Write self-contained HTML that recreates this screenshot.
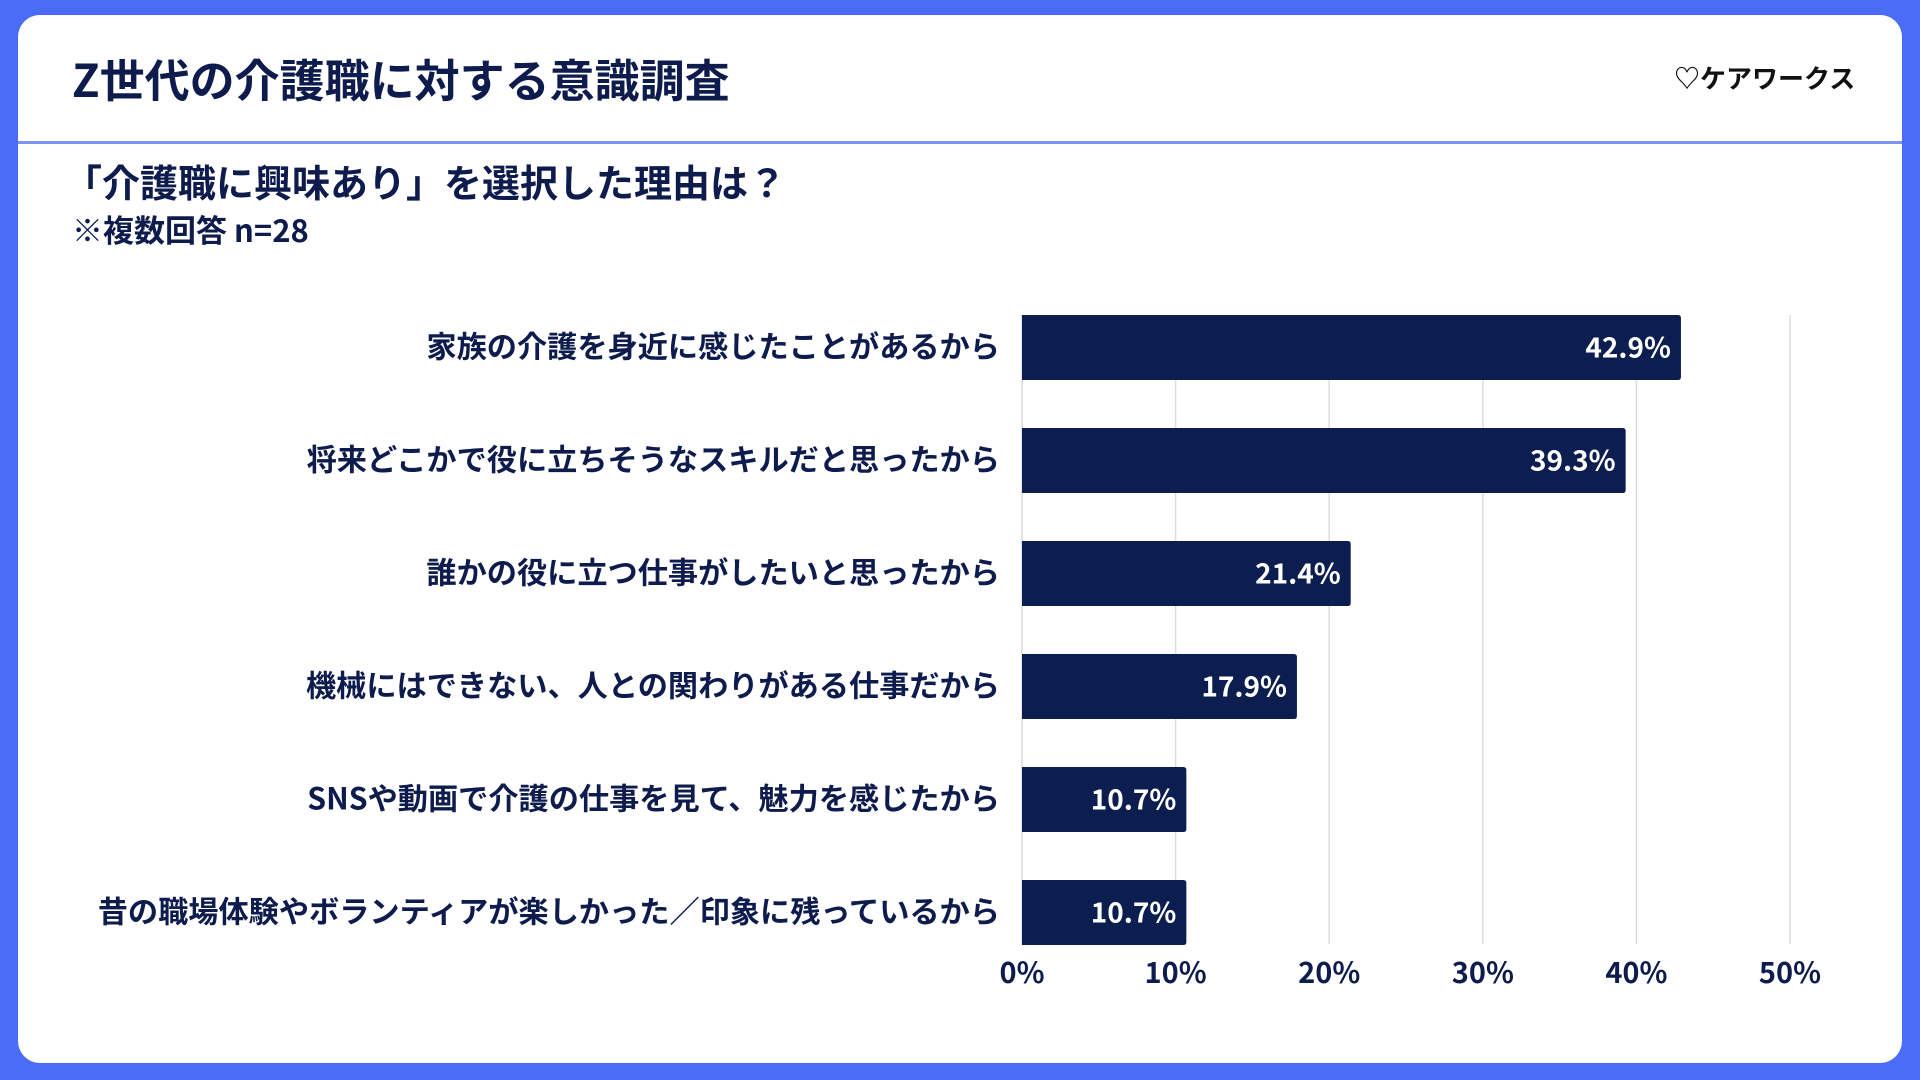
<!DOCTYPE html>
<html><head><meta charset="utf-8">
<style>
body{margin:0;width:1920px;height:1080px;background:#4b6cf6;overflow:hidden;font-family:"Liberation Sans","Noto Sans CJK JP",sans-serif;}
#card{position:absolute;left:18px;top:15px;width:1884px;height:1048px;background:#fff;border-radius:22px;overflow:hidden;}
.t{position:absolute;color:#0e1b4d;font-family:"Noto Sans CJK JP",sans-serif;font-weight:700;white-space:nowrap;}
</style></head><body>
<div id="card">
<div class="t" style="left:54px;top:30px;font-size:45px;line-height:66px;">Z世代の介護職に対する意識調査</div>
<div class="t" style="left:1656px;top:43px;font-size:26px;line-height:40px;color:#111;">♡ケアワークス</div>
<div style="position:absolute;left:0;top:126px;width:100%;height:3px;background:#7b95ee;"></div>
<div class="t" style="left:46px;top:139px;font-size:38px;line-height:54px;">「介護職に興味あり」を選択した理由は？</div>
<div class="t" style="left:54px;top:192px;font-size:31px;line-height:44px;">※複数回答 n=28</div>
</div>
<svg id="chart" width="1920" height="1080" style="position:absolute;left:0;top:0;">
<g id="grid"></g><g id="bars"></g><g id="labels"></g><g id="ticks"></g>
</svg>
<script>
const categories=["家族の介護を身近に感じたことがあるから","将来どこかで役に立ちそうなスキルだと思ったから","誰かの役に立つ仕事がしたいと思ったから","機械にはできない、人との関わりがある仕事だから","SNSや動画で介護の仕事を見て、魅力を感じたから","昔の職場体験やボランティアが楽しかった／印象に残っているから"];
const values=[42.9,39.3,21.4,17.9,10.7,10.7];
const tickValues=[0,10,20,30,40,50];
const tickLabels=["0%","10%","20%","30%","40%","50%"];
const NS="http://www.w3.org/2000/svg";
const x0=1022,pxPer=15.36,yTop=315,step=113,barH=65;
const xs=v=>x0+v*pxPer;
const yc=i=>yTop+barH/2+i*step;
function mk(t,a,p){const e=document.createElementNS(NS,t);for(const k in a)e.setAttribute(k,a[k]);p.appendChild(e);return e;}
const G=document.getElementById('grid'),B=document.getElementById('bars'),L=document.getElementById('labels'),T=document.getElementById('ticks');
const font='"Noto Sans CJK JP",sans-serif';
tickValues.forEach((v,i)=>{
 const ln=mk('line',{x1:xs(v),x2:xs(v),y1:yTop,y2:944,stroke:'#dcdcdc','stroke-width':1.5},G);
 
 
 const tx=mk('text',{x:xs(v),y:983,'text-anchor':'middle','font-size':29,'font-weight':700,fill:'#0e1b4d','font-family':font},T);
 tx.textContent=tickLabels[i];
 
 
});
values.forEach((v,i)=>{
 const y=yc(i)-barH/2;
 const r=mk('path',{d:`M${x0},${y}H${xs(v)-3}Q${xs(v)},${y} ${xs(v)},${y+3}V${y+barH-3}Q${xs(v)},${y+barH} ${xs(v)-3},${y+barH}H${x0}Z`,fill:'#0c1d4f'},B);
 
 
 const vt=mk('text',{x:xs(v)-10,y:yc(i)+10,'text-anchor':'end','font-size':28,'font-weight':700,fill:'#fff','font-family':font},L);
 vt.textContent=v.toFixed(1)+'%';
 
 
 const ct=mk('text',{x:1000,y:yc(i)+10,'text-anchor':'end','font-size':30.2,'font-weight':700,fill:'#0e1b4d','font-family':font},L);
 ct.textContent=categories[i];
 
 
});
</script>
</body></html>
